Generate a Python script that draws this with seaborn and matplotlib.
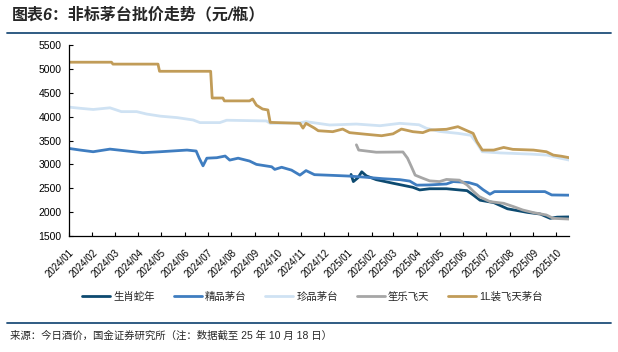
import matplotlib
matplotlib.use("Agg")
import matplotlib.dates as mdates
import matplotlib.pyplot as plt
import pandas as pd
import seaborn as sns
from matplotlib.lines import Line2D

# series (元/瓶)
names = ["生肖蛇年", "精品茅台", "珍品茅台", "笙乐飞天", "1L装飞天茅台"]
colors = ["#0d4a70", "#3f7dc0", "#cfe2f3", "#a6a6a6", "#c19c58"]

snake_dates = ["2025-01-05", "2025-01-08", "2025-01-14", "2025-01-19", "2025-01-25",
               "2025-02-07", "2025-03-01", "2025-03-27", "2025-04-05", "2025-04-18",
               "2025-05-10", "2025-06-06", "2025-06-14", "2025-06-23", "2025-07-11",
               "2025-07-29", "2025-08-24", "2025-09-10", "2025-09-23", "2025-10-02",
               "2025-10-18"]
snake_vals = [2790, 2640, 2720, 2845, 2760, 2680, 2605, 2520, 2465, 2490,
              2490, 2450, 2360, 2250, 2200, 2070, 1995, 1960, 1870, 1895, 1900]

jing_dates = ["2024-01-01", "2024-01-16", "2024-02-02", "2024-02-24", "2024-04-07",
              "2024-04-30", "2024-06-04", "2024-06-16", "2024-06-20", "2024-06-25",
              "2024-06-30", "2024-07-13", "2024-07-24", "2024-07-30", "2024-08-10",
              "2024-08-25", "2024-09-03", "2024-09-23", "2024-09-27", "2024-10-06",
              "2024-10-19", "2024-10-30", "2024-11-07", "2024-11-18", "2024-12-12",
              "2025-01-03", "2025-01-25", "2025-02-16", "2025-03-10", "2025-03-23",
              "2025-04-01", "2025-04-18", "2025-05-10", "2025-05-19", "2025-06-08",
              "2025-06-19", "2025-06-27", "2025-07-06", "2025-07-12", "2025-09-16",
              "2025-09-25", "2025-10-18"]
jing_vals = [3335, 3300, 3265, 3320, 3245, 3265, 3300, 3280, 3130, 2970,
             3130, 3140, 3175, 3090, 3130, 3070, 3000, 2950, 2895, 2940,
             2880, 2775, 2870, 2785, 2770, 2755, 2730, 2700, 2680, 2650,
             2565, 2570, 2590, 2640, 2620, 2570, 2470, 2375, 2430, 2430,
             2360, 2355]

zhen_dates = ["2024-01-01", "2024-01-16", "2024-02-02", "2024-02-24", "2024-03-10",
              "2024-03-30", "2024-04-12", "2024-04-30", "2024-05-22", "2024-06-12",
              "2024-06-21", "2024-07-17", "2024-07-26", "2024-09-16", "2024-09-21",
              "2024-10-30", "2024-11-07", "2024-12-08", "2025-01-12", "2025-02-12",
              "2025-03-10", "2025-04-04", "2025-04-14", "2025-05-01", "2025-05-25",
              "2025-06-11", "2025-06-19", "2025-06-26", "2025-07-20", "2025-08-29",
              "2025-09-19", "2025-10-06", "2025-10-18"]
zhen_vals = [4200, 4175, 4150, 4185, 4105, 4105, 4055, 4010, 3980, 3930,
             3875, 3875, 3925, 3910, 3860, 3870, 3895, 3825, 3845, 3810,
             3860, 3830, 3755, 3690, 3650, 3610, 3440, 3265, 3240, 3215,
             3195, 3130, 3090]

sheng_dates = ["2025-01-12", "2025-01-15", "2025-02-07", "2025-03-14", "2025-03-20",
               "2025-03-25", "2025-03-30", "2025-04-09", "2025-04-18", "2025-05-01",
               "2025-05-10", "2025-05-27", "2025-06-06", "2025-06-14", "2025-06-22",
               "2025-07-06", "2025-07-24", "2025-08-06", "2025-08-18", "2025-09-01",
               "2025-09-18", "2025-09-27", "2025-10-18"]
sheng_vals = [3410, 3300, 3255, 3260, 3130, 2955, 2775, 2710, 2655, 2640,
              2685, 2670, 2570, 2440, 2325, 2220, 2185, 2115, 2045, 1990,
              1940, 1870, 1855]

feitian_dates = ["2024-01-01", "2024-02-26", "2024-02-28", "2024-04-27", "2024-04-29",
                 "2024-07-05", "2024-07-07", "2024-07-21", "2024-07-23", "2024-08-25",
                 "2024-08-29", "2024-09-03", "2024-09-11", "2024-09-18", "2024-09-21",
                 "2024-10-30", "2024-11-03", "2024-11-07", "2024-11-18", "2024-11-23",
                 "2024-12-12", "2024-12-25", "2025-01-03", "2025-01-25", "2025-02-14",
                 "2025-03-01", "2025-03-12", "2025-03-27", "2025-04-09", "2025-04-18",
                 "2025-05-10", "2025-05-25", "2025-06-06", "2025-06-14", "2025-06-19",
                 "2025-06-26", "2025-07-11", "2025-07-24", "2025-08-05", "2025-09-01",
                 "2025-09-18", "2025-09-27", "2025-10-08", "2025-10-18"]
feitian_vals = [5140, 5140, 5100, 5100, 4950, 4950, 4390, 4390, 4330, 4330,
                4370, 4240, 4160, 4140, 3880, 3860, 3760, 3860, 3760, 3705,
                3685, 3740, 3665, 3630, 3600, 3640, 3740, 3685, 3665, 3720,
                3735, 3790, 3705, 3650, 3475, 3300, 3300, 3355, 3315, 3300,
                3265, 3195, 3170, 3140]

all_dates = [snake_dates, jing_dates, zhen_dates, sheng_dates, feitian_dates]
all_vals = [snake_vals, jing_vals, zhen_vals, sheng_vals, feitian_vals]

frames = []
for name, d, v in zip(names, all_dates, all_vals):
    frames.append(pd.DataFrame({"date": pd.to_datetime(d), "price": v, "series": name}))
df = pd.concat(frames, ignore_index=True)

sns.set_style("ticks")
plt.rcParams["font.family"] = ["Liberation Sans", "Noto Sans CJK SC"]
plt.rcParams["axes.unicode_minus"] = False

fig = plt.figure(figsize=(6.18, 3.52), dpi=100)
ax = fig.add_axes([0.1112, 0.3295, 0.81, 0.5426])

sns.lineplot(data=df, x="date", y="price", hue="series", hue_order=names,
             palette=colors, linewidth=2.0, legend=False, ax=ax)

ax.set_xlim(pd.Timestamp("2024-01-01"), pd.Timestamp("2025-10-18"))
ax.set_ylim(1500, 5500)
ax.set_yticks(range(1500, 5501, 500))
ax.xaxis.set_major_locator(mdates.MonthLocator())
ax.xaxis.set_major_formatter(mdates.DateFormatter("%Y/%m"))
ax.set_xlabel("")
ax.set_ylabel("")
for s in ["top", "right"]:
    ax.spines[s].set_visible(False)
for s in ["left", "bottom"]:
    ax.spines[s].set_color("black")
    ax.spines[s].set_linewidth(0.9)
ax.tick_params(axis="both", direction="in", length=3, width=0.8, colors="black")
ax.tick_params(axis="y", labelsize=7.5, pad=5)
ax.tick_params(axis="x", labelsize=7, pad=8)
plt.setp(ax.get_xticklabels(), rotation=45, ha="right", rotation_mode="anchor")

fig.legend(ax.get_lines()[:5], names, loc="center", bbox_to_anchor=(0.506, 1 - 297 / 352),
           ncol=5, frameon=False, fontsize=7.5, handlelength=2.7, handletextpad=0.3,
           columnspacing=1.8)

fig.text(12 / 618, 1 - 15 / 352, "图表6：非标茅台批价走势（元/瓶）", fontsize=11.5,
         fontweight="bold", style="italic", va="center", ha="left")
fig.add_artist(Line2D([7 / 618, 611 / 618], [1 - 33 / 352] * 2, color="#1f4e79", lw=1.3))
fig.add_artist(Line2D([7 / 618, 611 / 618], [1 - 323 / 352] * 2, color="#1f4e79", lw=1.3))
fig.text(10 / 618, 1 - 336 / 352, "来源：今日酒价，国金证券研究所（注：数据截至 25 年 10 月 18 日）",
         fontsize=7.5, va="center", ha="left")

fig.savefig("out.png", dpi=100)
